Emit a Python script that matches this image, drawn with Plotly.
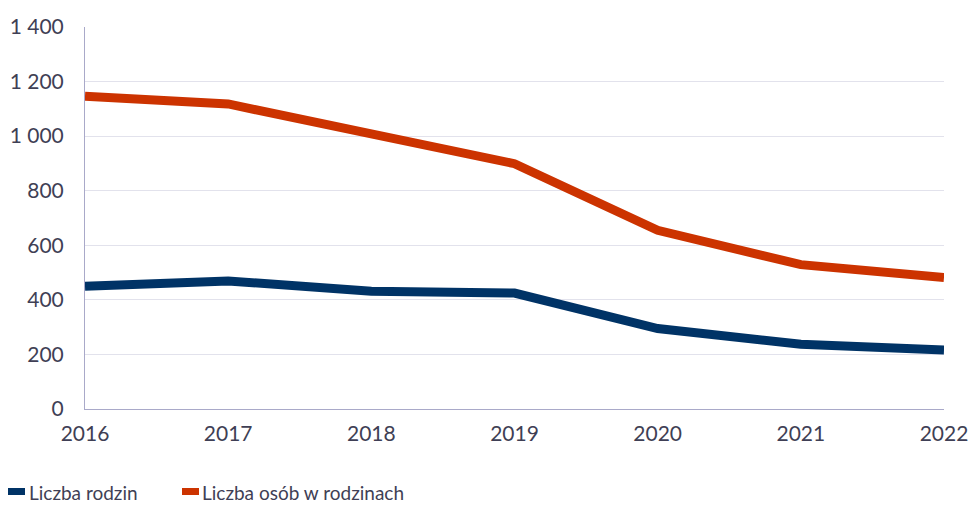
import plotly.graph_objects as go

years = [2016, 2017, 2018, 2019, 2020, 2021, 2022]
rodziny = [450, 469, 432, 425, 295, 237, 216]
osoby = [1146, 1118, 1008, 899, 655, 529, 482]
y_ticks = [0, 200, 400, 600, 800, 1000, 1200, 1400]
series_names = ["Liczba rodzin", "Liczba osób w rodzinach"]
series_colors = ["#003366", "#cc3300"]

font_family = "Lato, Open Sans, sans-serif"
text_color = "#3f3f55"

W, H = 969, 505
ML, MR, MT, MB = 85, 25, 27, 96
PW, PH = W - ML - MR, H - MT - MB


def px_x(fx):
    return (fx - ML) / PW


def px_y(fy):
    return (H - MB - fy) / PH


fig = go.Figure()
for vals, name, col in zip([rodziny, osoby], series_names, series_colors):
    fig.add_trace(go.Scatter(x=years, y=vals, mode="lines", name=name,
                             showlegend=False, line=dict(color=col, width=9)))

# manual legend (swatch left edge, text left edge in pixels)
legend_items = [(8, 28), (182, 201)]
shapes, annotations = [], []
for (rx, tx), name, col in zip(legend_items, series_names, series_colors):
    shapes.append(dict(type="rect", xref="paper", yref="paper",
                       x0=px_x(rx), x1=px_x(rx + 17), y0=px_y(495), y1=px_y(488),
                       fillcolor=col, line=dict(width=0)))
    annotations.append(dict(text=name, xref="paper", yref="paper",
                            x=px_x(tx), y=px_y(504.5), xanchor="left", yanchor="bottom",
                            borderpad=0, showarrow=False,
                            font=dict(size=19, color=text_color)))

fig.update_layout(
    width=W, height=H,
    margin=dict(l=ML, r=MR, t=MT, b=MB, autoexpand=False),
    paper_bgcolor="white", plot_bgcolor="white",
    separators=". ",
    font=dict(family=font_family, color=text_color, size=21),
    showlegend=False,
    shapes=shapes, annotations=annotations,
)
fig.update_xaxes(range=[2016, 2022], tickvals=years, ticktext=[str(y) for y in years],
                 showgrid=False, showline=True, linecolor="#a9a9c9", linewidth=1,
                 ticks="outside", ticklen=6, tickcolor="rgba(0,0,0,0)",
                 tickfont=dict(size=21, color=text_color), zeroline=False,
                 automargin=False)
fig.update_yaxes(range=[0, 1400], tickvals=y_ticks, tickformat=",d",
                 showgrid=True, gridcolor="#e2e2ec", gridwidth=1,
                 showline=True, linecolor="#a9a9c9", linewidth=1,
                 ticks="outside", ticklen=16, tickcolor="rgba(0,0,0,0)",
                 tickfont=dict(size=21, color=text_color), zeroline=False,
                 automargin=False)

fig.write_html("out.html", config={"displayModeBar": False},
               post_script="document.body.style.margin='0';"
                           "document.body.style.overflow='hidden';")
